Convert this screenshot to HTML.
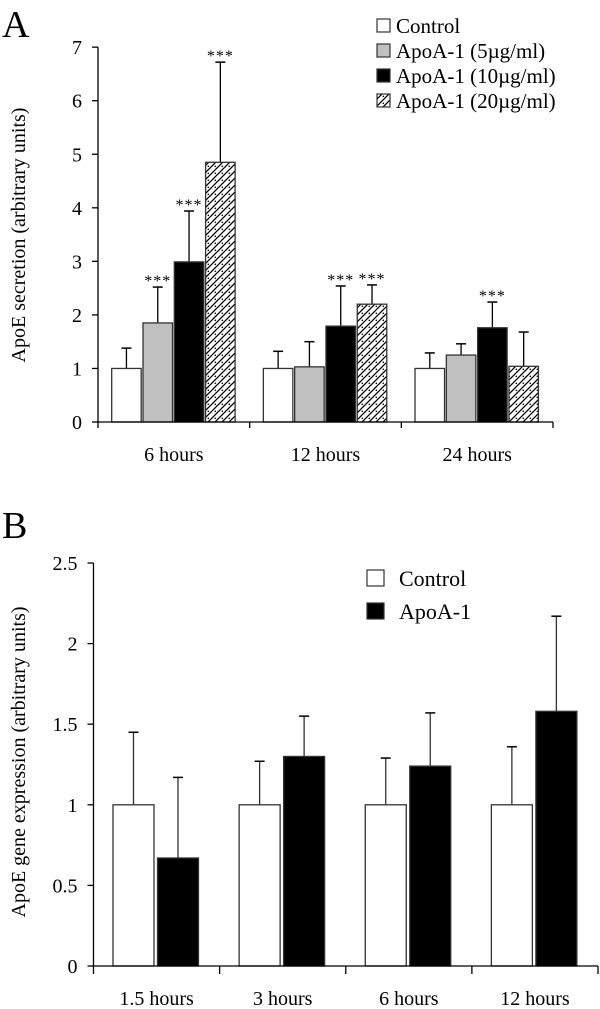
<!DOCTYPE html>
<html><head><meta charset="utf-8"><style>
html,body{margin:0;padding:0;background:#fff;}
svg{display:block;font-family:"Liberation Serif",serif;}
</style></head><body>
<svg id="chart" width="600" height="1009" viewBox="0 0 600 1009" xmlns="http://www.w3.org/2000/svg">
<defs>
<pattern id="hatch" patternUnits="userSpaceOnUse" width="7" height="7">
<rect width="7" height="7" fill="#fff"/>
<path d="M-1,8 L8,-1 M-1,1 L1,-1 M6,8 L8,6" stroke="#000" stroke-width="1.3"/>
<circle cx="5.3" cy="5.3" r="0.8" fill="#000"/>
</pattern>
</defs>
<g id="panelA"></g>
<g id="panelB"></g>
</svg>
<script>
// Panel A data
const catsA = ["6 hours","12 hours","24 hours"];
const seriesNamesA = ["Control","ApoA-1 (5µg/ml)","ApoA-1 (10µg/ml)","ApoA-1 (20µg/ml)"];
const controlA = [1,1,1];
const apo5A = [1.85,1.03,1.25];
const apo10A = [2.99,1.79,1.76];
const apo20A = [4.85,2.2,1.04];
const controlErrA = [1.38,1.32,1.29];
const apo5ErrA = [2.52,1.5,1.46];
const apo10ErrA = [3.94,2.54,2.24];
const apo20ErrA = [6.72,2.56,1.68];
const controlSigA = [false,false,false];
const apo5SigA = [true,false,false];
const apo10SigA = [true,true,true];
const apo20SigA = [true,true,false];
const ticksA = [0,1,2,3,4,5,6,7];
// Panel B data
const catsB = ["1.5 hours","3 hours","6 hours","12 hours"];
const seriesNamesB = ["Control","ApoA-1"];
const controlB = [1,1,1,1];
const apoB = [0.67,1.30,1.24,1.58];
const controlErrB = [1.45,1.27,1.29,1.36];
const apoErrB = [1.17,1.55,1.57,2.17];
const ticksB = [0,0.5,1,1.5,2,2.5];

const NS="http://www.w3.org/2000/svg";
function mk(parent,tag,attrs,text){const e=document.createElementNS(NS,tag);for(const k in attrs)e.setAttribute(k,attrs[k]);if(text!==undefined)e.textContent=text;parent.appendChild(e);return e;}

// ---------- Panel A ----------
(function(){
const g=document.getElementById('panelA');
const x0=98,x1=553,y0=422,ppu=53.55;
const yA=v=>y0-v*ppu;
const gw=(x1-x0)/catsA.length;
const bw=29.5,pitch=31.3,off=13.7;
const vals=[controlA,apo5A,apo10A,apo20A];
const errs=[controlErrA,apo5ErrA,apo10ErrA,apo20ErrA];
const sigs=[controlSigA,apo5SigA,apo10SigA,apo20SigA];
const fills=["#fff","#c0c0c0","#000","url(#hatch)"];
let t=mk(g,'text',{x:2,y:37,'font-size':38},'A');


ticksA.forEach(v=>{
 const l=mk(g,'line',{x1:x0-6,x2:x0,y1:yA(v),y2:yA(v),stroke:'#000','stroke-width':1.3});
 
 
 const tx=mk(g,'text',{x:x0-16,y:yA(v)+7,'font-size':20,'text-anchor':'end'},String(v));
 
 
});
catsA.forEach((c,i)=>{
 const gx=x0+i*gw;
 vals.forEach((arr,s)=>{
  const bx=gx+off+s*pitch;
  const e=mk(g,'line',{x1:bx+bw/2,x2:bx+bw/2,y1:yA(arr[i]),y2:yA(errs[s][i]),stroke:'#000','stroke-width':1.3});
  
  
  const cap=mk(g,'line',{x1:bx+bw/2-5,x2:bx+bw/2+5,y1:yA(errs[s][i]),y2:yA(errs[s][i]),stroke:'#000','stroke-width':1.5});
  
  
  const r=mk(g,'rect',{x:bx,y:yA(arr[i]),width:bw,height:arr[i]*ppu,fill:fills[s],stroke:'#333','stroke-width':1.3});
  
  
  if(sigs[s][i]){const st=mk(g,'text',{x:bx+bw/2,y:yA(errs[s][i])-1,'font-size':16,'text-anchor':'middle','letter-spacing':'1'},'***');
   
   }
 });
 const lb=mk(g,'text',{x:gx+gw/2,y:y0+39,'font-size':20,'text-anchor':'middle'},c);
 
 
 const tk=mk(g,'line',{x1:gx+gw,x2:gx+gw,y1:y0,y2:y0+6,stroke:'#000','stroke-width':1.3});
 
 
});
let ax=mk(g,'line',{x1:x0,x2:x0,y1:yA(7),y2:y0+6,stroke:'#000','stroke-width':1.3});


let ax2=mk(g,'line',{x1:x0-1,x2:x1,y1:y0,y2:y0,stroke:'#000','stroke-width':1.3});


const yt=mk(g,'text',{x:0,y:0,'font-size':20,'text-anchor':'middle',transform:'translate(25,235) rotate(-90)'},'ApoE secretion (arbitrary units)');


seriesNamesA.forEach((n,s)=>{
 const ly=19+s*25;
 const b=mk(g,'rect',{x:377,y:ly,width:13,height:13,fill:fills[s],stroke:'#333','stroke-width':1.2});
 
 
 const lt=mk(g,'text',{x:396,y:ly+14,'font-size':21},n);
 
 
});
})();

// ---------- Panel B ----------
(function(){
const g=document.getElementById('panelB');
const x0=93.5,x1=598,y0=966,ppu=161.2;
const yB=v=>y0-v*ppu;
const gw=(x1-x0)/catsB.length;
const bw=41,pitch=44.5,off=19.5;
const vals=[controlB,apoB],errs=[controlErrB,apoErrB],fills=["#fff","#000"];
let t=mk(g,'text',{x:2,y:538,'font-size':38},'B');


ticksB.forEach(v=>{
 const l=mk(g,'line',{x1:x0-6,x2:x0,y1:yB(v),y2:yB(v),stroke:'#000','stroke-width':1.3});
 
 
 const tx=mk(g,'text',{x:x0-16,y:yB(v)+7,'font-size':20,'text-anchor':'end'},String(v));
 
 
});
catsB.forEach((c,i)=>{
 const gx=x0+i*gw;
 vals.forEach((arr,s)=>{
  const bx=gx+off+s*pitch;
  const e=mk(g,'line',{x1:bx+bw/2,x2:bx+bw/2,y1:yB(arr[i]),y2:yB(errs[s][i]),stroke:'#333','stroke-width':1.3});
  
  
  const cap=mk(g,'line',{x1:bx+bw/2-5,x2:bx+bw/2+5,y1:yB(errs[s][i]),y2:yB(errs[s][i]),stroke:'#000','stroke-width':1.5});
  
  
  const r=mk(g,'rect',{x:bx,y:yB(arr[i]),width:bw,height:arr[i]*ppu,fill:fills[s],stroke:'#333','stroke-width':1.3});
  
  
 });
 const lb=mk(g,'text',{x:gx+gw/2,y:y0+39,'font-size':20,'text-anchor':'middle'},c);
 
 
 const tk=mk(g,'line',{x1:gx+gw,x2:gx+gw,y1:y0,y2:y0+8,stroke:'#000','stroke-width':1.3});
 
 
});
let ax=mk(g,'line',{x1:x0,x2:x0,y1:yB(2.5),y2:y0+8,stroke:'#000','stroke-width':1.3});


let ax2=mk(g,'line',{x1:x0-1,x2:x1,y1:y0,y2:y0,stroke:'#000','stroke-width':1.3});


const yt=mk(g,'text',{x:0,y:0,'font-size':20,'text-anchor':'middle',transform:'translate(25,762) rotate(-90)'},'ApoE gene expression (arbitrary units)');


seriesNamesB.forEach((n,s)=>{
 const ly=570+s*33;
 const b=mk(g,'rect',{x:367,y:ly,width:17,height:16,fill:fills[s],stroke:'#333','stroke-width':1.2});
 
 
 const lt=mk(g,'text',{x:399,y:ly+16,'font-size':22},n);
 
 
});
})();
</script>
</body></html>
